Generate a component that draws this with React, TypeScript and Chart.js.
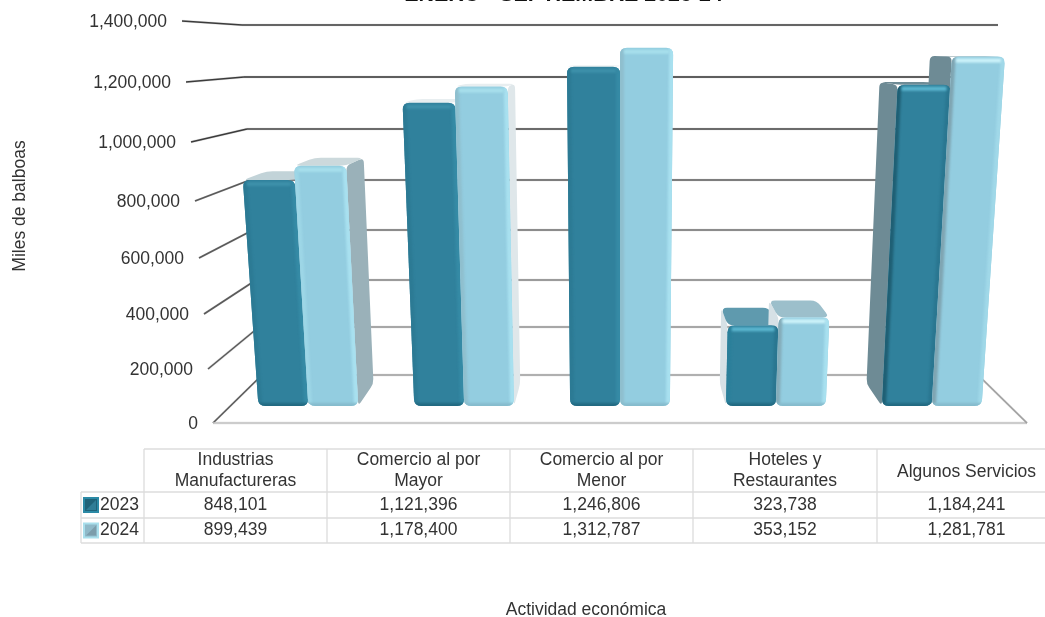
import React, { useEffect, useRef } from "react";
import { Chart, registerables } from "chart.js";

Chart.register(...registerables);

const TITLE = "ENERO - SEPTIEMBRE 2023-24";
const X_TITLE = "Actividad económica";
const Y_TITLE = "Miles de balboas";
const CATEGORIES = ["Industrias Manufactureras", "Comercio al por Mayor", "Comercio al por Menor", "Hoteles y Restaurantes", "Algunos Servicios"];
const CATEGORY_LINES = [["Industrias", "Manufactureras"], ["Comercio al por", "Mayor"], ["Comercio al por", "Menor"], ["Hoteles y", "Restaurantes"], ["Algunos Servicios"]];
const SERIES_NAMES = ["2023", "2024"];
const VALUES_2023 = [848101, 1121396, 1246806, 323738, 1184241];
const VALUES_2024 = [899439, 1178400, 1312787, 353152, 1281781];
const Y_MAX = 1400000;
const Y_STEP = 200000;

// perspective frame, bottom tick to top tick
const FRONT_Y = [423, 369, 314, 258, 201, 142, 82, 21];
const BACK_Y = [375, 327, 280, 230, 180, 129, 77, 25];
const FRONT_X = [213, 208, 204, 199, 195, 191, 186, 182];
const BACK_X = [262, 259, 256, 253, 250, 247, 244, 242];
const CX = 620;
const Z_FRONT = 0.354;
const Z_BACK = 0.82;

const GRID_COLORS = ["#a0a0a0", "#949494", "#848484", "#707070", "#5c5c5c", "#444444", "#333333", "#3c3c3c"];
const SIDE_COLORS = ["#9ab1b9", "#dfe7ea", "#f0f3f4", "#d6e1e6", "#6e8b95"];
const TOP_DARK = ["#c2d3d8", "#e8eef0", "#f0f3f4", "#5f9aae", "#6e8b95"];
const TOP_LIGHT = ["#ccd9dc", "#e8eef0", "#f0f3f4", "#9cbfcb", "#7a959e"];
const FRONT_COLORS = ["#30819c", "#93cde0"];
const TOP_BAND = [["#3d90aa", "#3d90aa", "#3d90aa", "#5bb6cf", "#5bb6cf"], ["#a8e0ec", "#a8e0ec", "#a8e0ec", "#cdf3fa", "#cdf3fa"]];
const LEFT_BAND = [["#2c7a94", "#2c7a94", "#2c7a94", "#2a7f9a", "#1f5f74"], ["#9dd6e6", "#8fbfce", "#8fbfce", "#84acb9", "#7fa5b2"]];
const RIGHT_BAND = [["#358aa5", "#358aa5", "#358aa5", "#2a7690", "#2a7690"], ["#a8e0ef", "#a8e0ef", "#a8e0ef", "#a8e0ef", "#a0d8e8"]];
const BOTTOM_BAND = ["#226a82", "#86bccd"];

const TABLE_X = [144, 327, 510, 693, 877, 1045];
const TABLE_Y = [449, 492, 518, 543];
const TABLE_LEFT = 81;
const FONT = '"Liberation Sans", Arial, sans-serif';

const lerp = (a: number, b: number, t: number) => a + (b - a) * t;
const sample = (arr: number[], v: number) => {
  const p = Math.max(0, Math.min(arr.length - 1, v * (arr.length - 1)));
  const i = Math.min(arr.length - 2, Math.floor(p));
  return lerp(arr[i], arr[i + 1], p - i);
};
const project = (u: number, v: number, z: number) => ({
  x: CX + u * lerp(CX - sample(FRONT_X, v), CX - sample(BACK_X, v), z),
  y: lerp(sample(FRONT_Y, v), sample(BACK_Y, v), z),
});
// low bars sit slightly under the wall's grid in the perspective
const barHeight = (v: number) => v - Math.max(0, 0.5 - v) * 0.035;

type Pt = { x: number; y: number };
function roundedPath(ctx: CanvasRenderingContext2D, pts: Pt[], r: number) {
  const n = pts.length;
  const towards = (a: Pt, b: Pt) => {
    const l = Math.hypot(b.x - a.x, b.y - a.y) || 1;
    const d = Math.min(r, l * 0.45);
    return { x: a.x + ((b.x - a.x) * d) / l, y: a.y + ((b.y - a.y) * d) / l };
  };
  ctx.beginPath();
  for (let i = 0; i < n; i++) {
    const p = pts[i], prev = pts[(i + n - 1) % n], next = pts[(i + 1) % n];
    const a = towards(p, prev), b = towards(p, next);
    if (i === 0) ctx.moveTo(a.x, a.y);
    else ctx.lineTo(a.x, a.y);
    ctx.quadraticCurveTo(p.x, p.y, b.x, b.y);
  }
  ctx.closePath();
}
function poly(ctx: CanvasRenderingContext2D, pts: Pt[], color: string) {
  ctx.fillStyle = color;
  ctx.beginPath();
  pts.forEach((p, i) => (i ? ctx.lineTo(p.x, p.y) : ctx.moveTo(p.x, p.y)));
  ctx.closePath();
  ctx.fill();
}
function gridLine(ctx: CanvasRenderingContext2D, pts: Pt[], color: string) {
  ctx.lineJoin = "round";
  ctx.beginPath();
  pts.forEach((p, i) => (i ? ctx.lineTo(p.x, p.y) : ctx.moveTo(p.x, p.y)));
  ctx.strokeStyle = "rgba(150,150,150,0.3)";
  ctx.lineWidth = 2.4;
  ctx.save();
  ctx.translate(0, 0.8);
  ctx.stroke();
  ctx.restore();
  ctx.strokeStyle = color;
  ctx.lineWidth = 1.6;
  ctx.stroke();
}
function text(ctx: CanvasRenderingContext2D, s: string, x: number, y: number, font: string, align: CanvasTextAlign, color = "#333333") {
  ctx.font = font;
  ctx.textAlign = align;
  ctx.textBaseline = "middle";
  ctx.fillStyle = color;
  ctx.fillText(s, x, y);
}

const bars3d = {
  id: "bars3d",
  beforeDatasetsDraw(chart: any) {
    const ctx: CanvasRenderingContext2D = chart.ctx;
    const area = chart.chartArea;
    const yScale = chart.scales.y;
    const toU = (px: number) => ((px - area.left) / (area.right - area.left)) * 2 - 1;
    const toV = (px: number) => (yScale.bottom - px) / (yScale.bottom - yScale.top);

    // walls and floor, from the value scale's ticks
    yScale.ticks.forEach((t: any, i: number) => {
      const v = toV(yScale.getPixelForValue(t.value));
      gridLine(ctx, [project(-1, v, 1), project(1, v, 1)], GRID_COLORS[i]);
      gridLine(ctx, [project(-1, v, 0), project(-1, v, 1)], i < 5 ? "#5a5a5a" : "#3c3c3c");
    });
    gridLine(ctx, [project(-1, 0, 0), project(1, 0, 0)], "#c6c6c6");
    gridLine(ctx, [project(1, 0, 0), project(1, 0, 1)], "#a0a0a0");

    const bars: any[] = [];
    chart.data.datasets.forEach((_: any, s: number) => {
      chart.getDatasetMeta(s).data.forEach((el: any, c: number) => {
        bars.push({ s, c, u0: toU(el.x - el.width / 2), u1: toU(el.x + el.width / 2), v: barHeight(toV(el.y)) });
      });
    });

    // sides and tops first, fronts over them
    bars.forEach(({ s, c, u0, u1, v }) => {
      const mid = (u0 + u1) / 2;
      const su = mid < 0 ? u1 : u0;
      if (Math.abs(mid) > 0.1) {
        ctx.fillStyle = SIDE_COLORS[c];
        roundedPath(ctx, [project(su, 0, Z_FRONT), project(su, 0, Z_BACK), project(su, v, Z_BACK), project(su, v, Z_FRONT)], 5);
        ctx.fill();
      }
      if (project(u0, v, Z_BACK).y < project(u0, v, Z_FRONT).y - 0.5) {
        ctx.fillStyle = (s === 0 ? TOP_DARK : TOP_LIGHT)[c];
        roundedPath(ctx, [project(u0, v, Z_FRONT), project(u0, v, Z_BACK), project(u1, v, Z_BACK), project(u1, v, Z_FRONT)], 6);
        ctx.fill();
      }
    });

    bars.forEach(({ s, c, u0, u1, v }) => {
      const bl = project(u0, 0, Z_FRONT), br = project(u1, 0, Z_FRONT);
      const tr = project(u1, v, Z_FRONT), tl = project(u0, v, Z_FRONT);
      ctx.save();
      roundedPath(ctx, [bl, br, tr, tl], 7);
      ctx.fillStyle = FRONT_COLORS[s];
      ctx.fill();
      ctx.clip();
      (ctx as any).filter = "blur(1.2px)";
      const sideW = 4;
      poly(ctx, [{ x: bl.x - 3, y: bl.y + 3 }, { x: bl.x + sideW, y: bl.y + 3 }, { x: tl.x + sideW, y: tl.y - 3 }, { x: tl.x - 3, y: tl.y - 3 }], LEFT_BAND[s][c]);
      poly(ctx, [{ x: br.x - sideW, y: br.y + 3 }, { x: br.x + 3, y: br.y + 3 }, { x: tr.x + 3, y: tr.y - 3 }, { x: tr.x - sideW, y: tr.y - 3 }], RIGHT_BAND[s][c]);
      poly(ctx, [{ x: bl.x - 3, y: bl.y + 3 }, { x: br.x + 3, y: br.y + 3 }, { x: br.x + 3, y: br.y - 3 }, { x: bl.x - 3, y: bl.y - 3 }], BOTTOM_BAND[s]);
      poly(ctx, [{ x: tl.x + 4, y: tl.y + 2 }, { x: tr.x - 4, y: tr.y + 2 }, { x: tr.x - 4, y: tr.y + 6 }, { x: tl.x + 4, y: tl.y + 6 }], TOP_BAND[s][c]);
      ctx.restore();
    });
    return false;
  },
  afterDraw(chart: any) {
    const ctx: CanvasRenderingContext2D = chart.ctx;
    const yScale = chart.scales.y;
    const font = `17.5px ${FONT}`;

    text(ctx, TITLE, 563.5, -4.5, `bold 21.4px ${FONT}`, "center", "#111111");
    ctx.save();
    ctx.translate(20, 206);
    ctx.rotate(-Math.PI / 2);
    text(ctx, Y_TITLE, 0, 0, font, "center", "#333333");
    ctx.restore();
    text(ctx, X_TITLE, 586, 610, font, "center", "#333333");

    yScale.ticks.forEach((t: any) => {
      const v = (yScale.bottom - yScale.getPixelForValue(t.value)) / (yScale.bottom - yScale.top);
      const p = project(-1, v, 0);
      text(ctx, Number(t.value).toLocaleString("en-US"), p.x - 15, p.y + 1, font, "right", "#333333");
    });

    // data table
    ctx.strokeStyle = "#dcdcdc";
    ctx.lineWidth = 1.3;
    const seg = (x0: number, y0: number, x1: number, y1: number) => {
      ctx.beginPath();
      ctx.moveTo(x0, y0);
      ctx.lineTo(x1, y1);
      ctx.stroke();
    };
    const right = TABLE_X[TABLE_X.length - 1];
    seg(TABLE_X[0], TABLE_Y[0], right, TABLE_Y[0]);
    seg(TABLE_LEFT, TABLE_Y[1], right, TABLE_Y[1]);
    seg(TABLE_LEFT, TABLE_Y[2], right, TABLE_Y[2]);
    seg(TABLE_LEFT, TABLE_Y[3], right, TABLE_Y[3]);
    seg(TABLE_LEFT, TABLE_Y[1], TABLE_LEFT, TABLE_Y[3]);
    TABLE_X.slice(0, -1).forEach((x) => seg(x, TABLE_Y[0], x, TABLE_Y[3]));

    CATEGORY_LINES.forEach((lines, c) => {
      const cx = c === 4 ? 966.5 : (TABLE_X[c] + TABLE_X[c + 1]) / 2;
      lines.forEach((line, j) => {
        const y = lines.length === 1 ? 472 : 460 + j * 21;
        text(ctx, line, cx, y, font, "center", "#333333");
      });
    });
    chart.data.datasets.forEach((ds: any, s: number) => {
      const yMid = (TABLE_Y[s + 1] + TABLE_Y[s + 2]) / 2;
      const kx = 83, ky = yMid - 8, k = 16;
      const outer = s === 0 ? "#2b8aa6" : "#a9dfec";
      const mid = s === 0 ? "#1f6379" : "#8fb9c8";
      const core = s === 0 ? "#2f7d96" : "#7c9dab";
      ctx.fillStyle = outer;
      ctx.fillRect(kx, ky, k, k);
      ctx.fillStyle = mid;
      ctx.fillRect(kx + 2, ky + 2, k - 4, k - 4);
      poly(ctx, [{ x: kx + 3, y: ky + k - 3 }, { x: kx + k / 2, y: ky + k / 2 }, { x: kx + k - 3, y: ky + 3 }, { x: kx + k - 3, y: ky + k - 3 }], core);
      text(ctx, SERIES_NAMES[s], 100, yMid, font, "left", "#333333");
      ds.data.forEach((val: number, c: number) => {
        const cx = c === 4 ? 966.5 : (TABLE_X[c] + TABLE_X[c + 1]) / 2;
        text(ctx, val.toLocaleString("en-US"), cx, yMid, font, "center", "#333333");
      });
    });
  },
};

export default function App() {
  const ref = useRef<HTMLCanvasElement>(null);
  useEffect(() => {
    document.body.style.margin = "0";
    const chart = new Chart(ref.current!, {
      type: "bar",
      data: {
        labels: CATEGORIES,
        datasets: [
          { label: SERIES_NAMES[0], data: VALUES_2023, backgroundColor: FRONT_COLORS[0], categoryPercentage: 0.64, barPercentage: 1 },
          { label: SERIES_NAMES[1], data: VALUES_2024, backgroundColor: FRONT_COLORS[1], categoryPercentage: 0.64, barPercentage: 1 },
        ],
      },
      options: {
        responsive: false,
        animation: false,
        devicePixelRatio: 1,
        layout: { padding: { left: 213, right: 19, top: 21, bottom: 194 } },
        plugins: { legend: { display: false }, tooltip: { enabled: false } },
        scales: {
          x: { display: false },
          y: { display: false, min: 0, max: Y_MAX, ticks: { stepSize: Y_STEP } },
        },
      },
      plugins: [bars3d],
    } as any);
    return () => chart.destroy();
  }, []);
  return (
    <div style={{ position: "fixed", left: 0, top: 0, width: 1045, height: 617, overflow: "hidden", background: "#fff" }}>
      <canvas ref={ref} width={1045} height={617} style={{ display: "block", width: 1045, height: 617, filter: "blur(0.35px)" }} />
    </div>
  );
}
